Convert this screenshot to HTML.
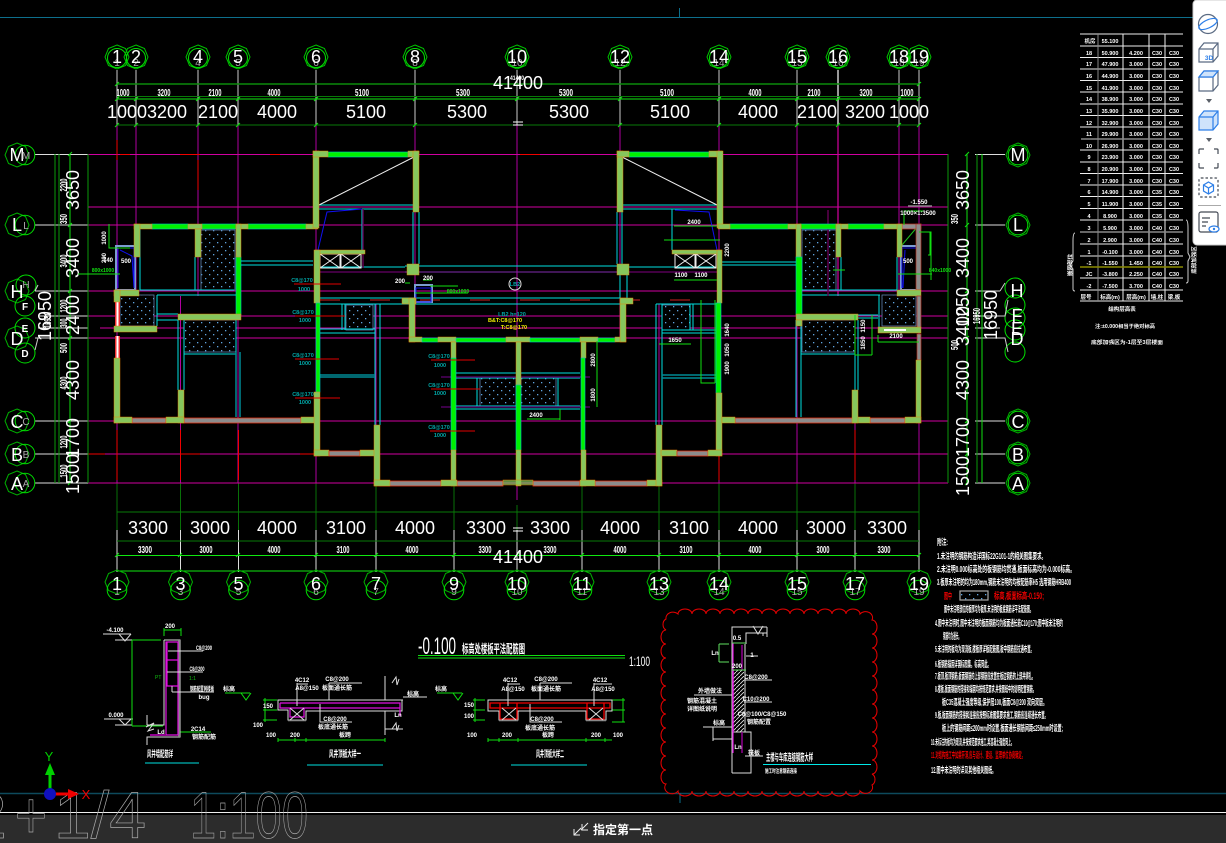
<!DOCTYPE html>
<html><head><meta charset="utf-8"><style>
html,body{margin:0;padding:0;background:#000;width:1226px;height:843px;overflow:hidden}
svg{display:block}
text{font-family:"Liberation Sans","Noto Sans CJK SC",sans-serif;fill:#fff}
.b{font-size:18px;text-anchor:middle}
.s{font-size:10px;text-anchor:middle;font-weight:bold}
.d{font-size:10px;text-anchor:middle;fill:#aaa}
.t{font-size:6px;text-anchor:middle;font-weight:bold}
.c{font-size:5.5px;text-anchor:middle;fill:#00a8a8;font-weight:bold}
.w{fill:#86c65c;stroke:#f08000;stroke-width:.45}
.g{fill:#8c8c8c;stroke:#e03010;stroke-width:.8}
.l{fill:#00f000;stroke:#00c8c8;stroke-width:.6}
.h{fill:url(#dots);stroke:#6080b0;stroke-width:.8}
.n{font-size:8.5px;font-weight:bold}
.tb{font-size:5.5px;text-anchor:middle;font-weight:bold}
.big{font-size:66px;fill:none;stroke-width:.7}
</style></head><body>
<svg width="1226" height="843" viewBox="0 0 1226 843" xmlns="http://www.w3.org/2000/svg">
<defs>
<pattern id="dots" width="8" height="8" patternUnits="userSpaceOnUse"><rect width="8" height="8" fill="#000"/><rect x="1" y="2" width="1.3" height="1.3" fill="#5fa4e0"/><rect x="5" y="6" width="1.3" height="1.3" fill="#5fa4e0"/></pattern>
<pattern id="hat" width="4" height="4" patternUnits="userSpaceOnUse"><rect width="4" height="4" fill="#000"/><path d="M0 4L4 0" stroke="#ddd" stroke-width=".9"/></pattern>
<g id="tb" fill="none" stroke="#00c000"><polygon points="0,-12 8.5,-8.5 12,0 8.5,8.5 0,12 -8.5,8.5 -12,0 -8.5,-8.5"/><circle cy="1" r="9.5" stroke="#00e000"/></g>
<g id="bb" fill="none" stroke="#00b000"><polygon points="0,-12 8.5,-8.5 12,0 8.5,8.5 0,12 -8.5,8.5 -12,0 -8.5,-8.5"/><circle cy="8" r="9.8" stroke="#00e000"/></g>
<g id="lb" fill="none" stroke="#00b000"><polygon points="0,-12 8.5,-8.5 12,0 8.5,8.5 0,12 -8.5,8.5 -12,0 -8.5,-8.5"/><circle cx="8" r="9.8" stroke="#00e000"/></g>
<circle id="c1" r="10" fill="none" stroke="#00e000"/>
</defs>
<rect width="1226" height="843" fill="#000"/>

<!-- ucs lines -->
<path d="M0 17.5H1226M679.5 8V17" stroke="#0d6f8c" fill="none"/>
<path d="M0 793.5H1226" stroke="#0d4a5c" stroke-width="1.5" fill="none"/>
<path d="M680 793V803" stroke="#0d6f8c"/>

<!-- vertical white stems -->
<path d="M117 70V125M136 70V125M198 70V125M238 70V125M316 70V125M415 70V125M517 70V125M620 70V125M719 70V125M797 70V125M899 70V125M919 70V125" stroke="#ccc" fill="none"/>
<path d="M838 70V125" stroke="#999" stroke-width="2"/>
<path d="M117 530V572M180.500 530V572M238.500 530V572M316 530V572M376 530V572M454 530V572M517 530V572M582 530V572M659 530V572M719 530V572M797 530V572M855 530V572M919 530V572" stroke="#ddd" fill="none"/>
<!-- axis lines -->
<g stroke="#b000a0" fill="none">
<path d="M117 125V483M136 125V290M198 125V296M238 125V483M316 125V483M415 125V340M517 125V500M620 125V340M719 125V483M797 125V483M899 125V290M919 125V483M454 340V483M582 340V483M180.500 296V483M376 304V483M659 304V483M855 320V483"/>
<path d="M838 125V296" stroke="#800060" stroke-width="2"/>
</g>
<path d="M117 483V530M180.500 483V530M238.500 483V530M316 483V530M376 483V530M454 483V530M517 505V530M582 483V530M659 483V530M719 483V530M797 483V530M855 483V530M919 483V530" stroke="#087008" fill="none"/>
<g stroke="#d000a0" fill="none">
<path d="M88 154.500H948M88 207H948M88 225H948M88 291H948M88 316H948M100 328H948M88 338H948M88 421H948M88 454H948M88 483H948"/>
</g>
<path d="M120 154.500H130M180 154.500H200M270 154.500H280M520 154.500H540M700 154.500H720M88 454H105M180 454H200M300 454H330M440 483H460M600 483H620M117 140V160M198 160V190M117 430V480M180.500 430V480M238.500 430V480M517 340V350M719 430V480M855 430V480" stroke="#f00000" fill="none"/>
<!-- left right white leaders -->
<path d="M35 154.500H88M35 225H88M35 291H88M38 316H88M38 328H88M35 338H88M35 421H88M35 454H88M35 483H88M975 154.500H1005M975 225H1005M975 291H1000M975 316H1000M975 328H1000M975 338H1000M975 421H1005M975 454H1005M975 483H1005" stroke="#ddd" fill="none"/>

<!-- dim lines top/bottom -->
<path d="M117 84H919" stroke="#0a8a0a" stroke-width="1.600"/>
<path d="M117 96.500H919M117 125H919M117 512H919M117 541H919" stroke="#087a08" fill="none"/>
<path d="M117 99H919M117 555.500H919M117 571H919" stroke="#10e810" fill="none"/>
<!-- dim lines left/right -->
<path d="M55 154V483M59 154V483M88 154V483M948 154V483M977 154V483" stroke="#0a9a0a" fill="none"/>
<path d="M70 154V483M967 154V483M982 154V483" stroke="#10e010" fill="none"/>
<!-- ticks -->
<path d="M115 86l4 -4M115 101l4 -4M134 101l4 -4M196 101l4 -4M236 101l4 -4M314 101l4 -4M413 101l4 -4M515 101l4 -4M618 101l4 -4M717 101l4 -4M795 101l4 -4M836 101l4 -4M897 101l4 -4M917 101l4 -4M917 86l4 -4M115 127l4 -4M134 127l4 -4M196 127l4 -4M236 127l4 -4M314 127l4 -4M413 127l4 -4M618 127l4 -4M717 127l4 -4M795 127l4 -4M836 127l4 -4M897 127l4 -4M917 127l4 -4M115 557l4 -4M178 557l4 -4M236 557l4 -4M314 557l4 -4M374 557l4 -4M452 557l4 -4M515 557l4 -4M580 557l4 -4M657 557l4 -4M717 557l4 -4M795 557l4 -4M853 557l4 -4M917 557l4 -4M68 156l4 -4M68 227l4 -4M68 293l4 -4M68 340l4 -4M68 423l4 -4M68 456l4 -4M68 485l4 -4M965 156l4 -4M965 227l4 -4M965 293l4 -4M965 340l4 -4M965 423l4 -4M965 456l4 -4M965 485l4 -4" stroke="#10e010" fill="none"/>
<path d="M513 122h10M513 125h10" stroke="#fff"/>
<path d="M513 528h10M513 531h10" stroke="#fff"/>

<!-- hatched rooms -->
<rect class="h" x="201" y="230" width="34" height="60"/>
<rect class="h" x="120" y="295" width="34" height="31"/>
<rect class="h" x="184" y="320" width="52" height="32"/>
<rect class="h" x="346" y="305" width="27" height="25"/>
<rect class="h" x="480" y="378" width="36" height="28"/>
<rect class="h" x="521" y="378" width="35" height="28"/>
<rect class="h" x="662" y="305" width="28" height="25"/>
<rect class="h" x="802" y="230" width="34" height="60"/>
<rect class="h" x="802" y="320" width="53" height="32"/>
<rect class="h" x="882" y="295" width="34" height="31"/>

<!-- cyan lines -->
<g fill="none" stroke="#00e0e0" stroke-width="1">
<path d="M140 229V290H234M195 257V290M157 295H236M157 295V326M157 314H178M157 320H178M178 320V390M184 320V390M184 354H236M236 320V417M241 261H313M241 265H313"/>
<path d="M319 205H413M319 209H413M362 209V250M320 267H405M320 298H410M320 304H410M342 304V330M345 304V330M320 329H375M320 333H375M375 304V425M380 304V425"/>
<path d="M405 266H622M405 272H622M410 298H620M410 304H620M413 212V264M419 212V264M622 212V264M620 275V298M627 275V298"/>
<path d="M455 373H580M455 378H580M455 406H580M455 409H580M477 378V406M558 378V406"/>
<path d="M656 304V425M662 304V425M656 304H716M662 330H716M662 333H716M690 304V330M693 304V330"/>
<path d="M622 205H717M622 209H717M672 209V250M620 267H716"/>
<path d="M722 262H796M722 265H796M841 257V290M897 257V290M801 290H897M802 295H880M879 295V330M858 315H878M858 318H878M855 320V390M858 320V390M796 320V417M801 320V417M801 354H855"/>
</g>
<path d="M320 375H375M320 377H375M662 375H716M662 378H716M236 352V417M240 352V417M617 212V264" stroke="#008a96" fill="none" stroke-width="1.500"/>
<path d="M441 377H590M441 407H590" stroke="#500060" stroke-width="1.500"/>
<path d="M363 209V268M828 210V296" stroke="#600050" stroke-width="1.500"/>
<!-- red cross lines -->
<path d="M320 272H720" stroke="#a000a0" fill="none" opacity=".8"/>
<path d="M320 300H720" stroke="#d02020" fill="none" stroke-dasharray="20 30"/>

<!-- stairs/diagonals -->
<path d="M319 205L414 157M622 157L717 205" stroke="#eee" fill="none"/>
<g fill="none" stroke="#eee"><rect x="320" y="254" width="20" height="14"/><path d="M320 254L340 268M340 254L320 268"/><rect x="341" y="254" width="20" height="14"/><path d="M341 254L361 268M361 254L341 268"/><rect x="675" y="254" width="20" height="14"/><path d="M675 254L695 268M695 254L675 268"/><rect x="696" y="254" width="20" height="14"/><path d="M696 254L716 268M716 254L696 268"/></g>
<path d="M318 250L327 212L362 209M675 210L709 212L717 250" stroke="#1010f0" fill="none"/>
<!-- shafts -->
<rect x="116" y="246" width="19" height="44" fill="none" stroke="#7c9cd0" stroke-width="2"/>
<path d="M118 248H134V288M118 248V288M120 250L132 256L134 288" stroke="#1010f0" fill="none"/>
<rect x="901" y="246" width="18" height="44" fill="none" stroke="#7c9cd0" stroke-width="2"/>
<path d="M918 248H902V288M918 248V288M905 250L903 288" stroke="#1010f0" fill="none"/>
<path d="M902 225L919 225M902 245L918 226" stroke="#20c020" fill="none"/>
<rect x="415" y="285" width="17" height="17" fill="none" stroke="#7c9cd0" stroke-width="2"/><rect x="416" y="288" width="15" height="14" fill="none" stroke="#1010f0"/>

<!-- WALLS: left wing -->
<rect class="l" x="152" y="224" width="36" height="5"/>
<rect class="l" x="202" y="224" width="34" height="5"/>
<rect class="l" x="248" y="224" width="58" height="5"/>
<rect class="l" x="236" y="257" width="5" height="58"/>
<rect class="w" x="134" y="224" width="18" height="5"/>
<rect class="w" x="188" y="224" width="14" height="5"/>
<rect class="w" x="236" y="224" width="12" height="5"/>
<rect class="w" x="306" y="224" width="12" height="5"/>
<rect class="w" x="134" y="224" width="6" height="33"/>
<rect class="w" x="195" y="229" width="6" height="28"/>
<rect class="w" x="236" y="224" width="5" height="33"/>
<rect class="w" x="114" y="290" width="25" height="6"/>
<rect x="115" y="302" width="5" height="24" fill="#f03030"/><rect x="116.500" y="302" width="2" height="24" fill="#fff"/>
<rect class="w" x="114" y="326" width="43" height="6"/>
<rect x="115" y="336" width="5" height="22" fill="#f03030"/><rect x="116.500" y="336" width="2" height="22" fill="#fff"/>
<rect class="w" x="114" y="290" width="6" height="12"/>
<rect class="w" x="114" y="358" width="6" height="65"/>
<rect class="w" x="178" y="314" width="63" height="6"/>
<rect class="w" x="178" y="390" width="6" height="33"/>
<rect class="g" x="132" y="418" width="34" height="5"/>
<rect class="g" x="184" y="418" width="117" height="5"/>
<rect class="w" x="114" y="417" width="18" height="6"/>
<rect class="w" x="166" y="417" width="18" height="6"/>
<rect class="w" x="301" y="417" width="14" height="6"/>
<!-- left tower -->
<rect class="l" x="328" y="152" width="80" height="5"/>
<rect class="w" x="313" y="151" width="6" height="77"/>
<rect class="w" x="313" y="151" width="15" height="6"/>
<rect class="w" x="408" y="151" width="11" height="6"/>
<rect class="w" x="413" y="151" width="6" height="61"/>
<rect class="w" x="315" y="250" width="50" height="4"/>
<rect class="w" x="314" y="250" width="6" height="53"/>
<rect class="l" x="316" y="303" width="4" height="89"/>
<rect class="w" x="314" y="392" width="6" height="64"/>
<rect class="w" x="314" y="450" width="15" height="6"/>
<rect class="g" x="329" y="451" width="31" height="5"/>
<rect class="w" x="360" y="450" width="16" height="6"/>
<rect class="w" x="374" y="425" width="6" height="61"/>
<rect class="w" x="407" y="264" width="12" height="11"/>
<!-- center -->
<rect class="w" x="402" y="298" width="14" height="6"/>
<rect class="w" x="409" y="298" width="6" height="44"/>
<rect class="w" x="409" y="337" width="13" height="5"/>
<rect class="l" x="422" y="338" width="16" height="4"/>
<rect class="w" x="438" y="337" width="18" height="5"/>
<rect class="l" x="456" y="338" width="50" height="4"/>
<rect class="w" x="506" y="337" width="24" height="5"/>
<rect class="l" x="530" y="338" width="50" height="4"/>
<rect class="w" x="580" y="337" width="18" height="5"/>
<rect class="l" x="598" y="338" width="17" height="4"/>
<rect class="w" x="615" y="337" width="11" height="5"/>
<rect class="w" x="620" y="298" width="6" height="44"/>
<rect class="w" x="620" y="298" width="13" height="6"/>
<rect class="w" x="451" y="342" width="5" height="16"/>
<rect class="l" x="451" y="358" width="5" height="92"/>
<rect class="w" x="451" y="450" width="5" height="36"/>
<rect class="w" x="516" y="342" width="5" height="43"/>
<rect class="l" x="516" y="385" width="5" height="65"/>
<rect class="w" x="516" y="450" width="5" height="36"/>
<rect class="w" x="581" y="342" width="5" height="16"/>
<rect class="l" x="581" y="358" width="4" height="92"/>
<rect class="w" x="581" y="450" width="5" height="36"/>
<rect class="g" x="380" y="481" width="61" height="5"/>
<rect class="g" x="457" y="481" width="46" height="5"/>
<rect class="g" x="533" y="481" width="47" height="5"/>
<rect class="g" x="595" y="481" width="52" height="5"/>
<rect class="w" x="374" y="480" width="16" height="6"/>
<rect class="w" x="441" y="480" width="16" height="6"/>
<rect class="w" x="503" y="480" width="30" height="5" fill-opacity=".7"/>
<rect class="w" x="580" y="480" width="15" height="6"/>
<rect class="w" x="647" y="480" width="15" height="6"/>
<rect class="w" x="656" y="425" width="6" height="61"/>
<!-- right tower -->
<rect class="l" x="629" y="152" width="80" height="5"/>
<rect class="w" x="617" y="151" width="6" height="61"/>
<rect class="w" x="617" y="151" width="12" height="6"/>
<rect class="w" x="709" y="151" width="13" height="6"/>
<rect class="w" x="717" y="151" width="6" height="77"/>
<rect class="w" x="672" y="250" width="50" height="4"/>
<rect class="w" x="717" y="250" width="5" height="53"/>
<rect class="l" x="716" y="303" width="5" height="90"/>
<rect class="w" x="716" y="393" width="6" height="63"/>
<rect class="w" x="661" y="450" width="16" height="6"/>
<rect class="g" x="677" y="451" width="31" height="5"/>
<rect class="w" x="708" y="450" width="14" height="6"/>
<rect class="w" x="617" y="264" width="12" height="11"/>
<!-- right wing -->
<rect class="l" x="730" y="224" width="58" height="5"/>
<rect class="l" x="800" y="224" width="36" height="5"/>
<rect class="l" x="848" y="224" width="36" height="5"/>
<rect class="w" x="718" y="224" width="12" height="5"/>
<rect class="w" x="788" y="224" width="13" height="5"/>
<rect class="w" x="836" y="224" width="12" height="5"/>
<rect class="w" x="884" y="224" width="18" height="5"/>
<rect x="902" y="224" width="19" height="5" fill="#909090" stroke="#c03020" stroke-width=".7"/>
<rect class="w" x="796" y="224" width="5" height="33"/>
<rect class="w" x="836" y="224" width="5" height="33"/>
<rect class="w" x="897" y="224" width="5" height="33"/>
<rect x="916" y="224" width="5" height="66" fill="#8c8c8c" stroke="#b03020" stroke-width=".7"/>
<rect class="l" x="796" y="257" width="6" height="58"/>
<rect class="w" x="796" y="314" width="62" height="6"/>
<rect class="w" x="796" y="320" width="6" height="6"/>
<rect class="w" x="897" y="290" width="24" height="6"/>
<rect x="917" y="296" width="4" height="32" fill="#8c8c8c" stroke="#b03020" stroke-width=".7"/>
<rect class="w" x="878" y="327" width="43" height="6"/><rect x="884" y="329" width="22" height="2" fill="#fff"/>
<rect x="917" y="334" width="4" height="26" fill="#8c8c8c" stroke="#b03020" stroke-width=".7"/>
<rect class="w" x="916" y="360" width="5" height="63"/>
<rect class="g" x="735" y="418" width="118" height="5"/>
<rect class="g" x="870" y="418" width="35" height="5"/>
<rect class="w" x="722" y="417" width="13" height="6"/>
<rect class="w" x="853" y="417" width="17" height="6"/>
<rect class="w" x="905" y="417" width="16" height="6"/>
<rect class="w" x="852" y="390" width="6" height="33"/>

<!-- top bubbles -->
<use href="#tb" x="117" y="57"/><use href="#tb" x="136" y="57"/><use href="#tb" x="198" y="57"/><use href="#tb" x="238" y="57"/><use href="#tb" x="316" y="57"/><use href="#tb" x="415" y="57"/><use href="#tb" x="517" y="57"/><use href="#tb" x="620" y="57"/><use href="#tb" x="719" y="57"/><use href="#tb" x="797" y="57"/><use href="#tb" x="838" y="57"/><use href="#tb" x="899" y="57"/><use href="#tb" x="919" y="57"/>
<text class="d" x="117" y="66">1</text><text class="d" x="136" y="66">2</text><text class="d" x="198" y="66">4</text><text class="d" x="238" y="66">5</text><text class="d" x="316" y="66">6</text><text class="d" x="415" y="66">8</text><text class="d" x="517" y="66">10</text><text class="d" x="620" y="66">12</text><text class="d" x="719" y="66">14</text><text class="d" x="797" y="66">15</text><text class="d" x="838" y="66">16</text><text class="d" x="899" y="66">18</text><text class="d" x="919" y="66">19</text>
<text class="b" x="117" y="63">1</text><text class="b" x="136" y="63">2</text><text class="b" x="198" y="63">4</text><text class="b" x="238" y="63">5</text><text class="b" x="316" y="63">6</text><text class="b" x="415" y="63">8</text><text class="b" x="517" y="63">10</text><text class="b" x="620" y="63">12</text><text class="b" x="719" y="63">14</text><text class="b" x="797" y="63">15</text><text class="b" x="838" y="63">16</text><text class="b" x="899" y="63">18</text><text class="b" x="919" y="63">19</text>
<!-- bottom bubbles -->
<use href="#bb" x="117" y="582"/><use href="#bb" x="180.500" y="582"/><use href="#bb" x="238.500" y="582"/><use href="#bb" x="316" y="582"/><use href="#bb" x="376" y="582"/><use href="#bb" x="454" y="582"/><use href="#bb" x="517" y="582"/><use href="#bb" x="582" y="582"/><use href="#bb" x="659" y="582"/><use href="#bb" x="719" y="582"/><use href="#bb" x="797" y="582"/><use href="#bb" x="855" y="582"/><use href="#bb" x="919" y="582"/>
<text class="d" x="117" y="595">1</text><text class="d" x="180.500" y="595">3</text><text class="d" x="238.500" y="595">5</text><text class="d" x="316" y="595">6</text><text class="d" x="376" y="595">7</text><text class="d" x="454" y="595">9</text><text class="d" x="517" y="595">10</text><text class="d" x="582" y="595">11</text><text class="d" x="659" y="595">13</text><text class="d" x="719" y="595">14</text><text class="d" x="797" y="595">15</text><text class="d" x="855" y="595">17</text><text class="d" x="919" y="595">19</text>
<text class="b" x="117" y="590">1</text><text class="b" x="180.500" y="590">3</text><text class="b" x="238.500" y="590">5</text><text class="b" x="316" y="590">6</text><text class="b" x="376" y="590">7</text><text class="b" x="454" y="590">9</text><text class="b" x="517" y="590">10</text><text class="b" x="582" y="590">11</text><text class="b" x="659" y="590">13</text><text class="b" x="719" y="590">14</text><text class="b" x="797" y="590">15</text><text class="b" x="855" y="590">17</text><text class="b" x="919" y="590">19</text>
<!-- left bubbles -->
<use href="#lb" x="17" y="155"/><use href="#lb" x="17" y="225"/><use href="#lb" x="17" y="421"/><use href="#lb" x="17" y="454"/><use href="#lb" x="17" y="483"/>
<g fill="none" stroke="#00b000"><polygon points="17,279 25.500,282.500 29,291 25.500,299.500 17,303 8.500,299.500 5,291 8.500,282.500"/><polygon points="17,326 25.500,329.500 29,338 25.500,346.500 17,350 8.500,346.500 5,338 8.500,329.500"/></g>
<use href="#c1" x="26" y="285"/><use href="#c1" x="25" y="306"/><use href="#c1" x="25" y="328"/><use href="#c1" x="25" y="353"/>
<text class="b" x="17" y="161">M</text><text class="b" x="17" y="231">L</text><text class="b" x="17" y="298">H</text><text class="b" x="17" y="345">D</text><text class="b" x="17" y="428">C</text><text class="b" x="17" y="461">B</text><text class="b" x="17" y="490">A</text>
<text class="d" x="26" y="159">M</text><text class="d" x="26" y="229">L</text><text class="d" x="26" y="425">C</text><text class="d" x="26" y="458">B</text><text class="d" x="26" y="487">A</text><text class="d" x="26" y="288">H</text>
<text class="s" x="25" y="310">F</text><text class="s" x="25" y="332">E</text><text class="s" x="25" y="357">D</text>
<!-- right bubbles -->
<g fill="none" stroke="#00b000"><polygon points="1018,143 1026.500,146.500 1030,155 1026.500,163.500 1018,167 1009.500,163.500 1006,155 1009.500,146.500"/><polygon points="1018,213 1026.500,216.500 1030,225 1026.500,233.500 1018,237 1009.500,233.500 1006,225 1009.500,216.500"/><polygon points="1018,409 1026.500,412.500 1030,421 1026.500,429.500 1018,433 1009.500,429.500 1006,421 1009.500,412.500"/><polygon points="1018,442 1026.500,445.500 1030,454 1026.500,462.500 1018,466 1009.500,462.500 1006,454 1009.500,445.500"/><polygon points="1018,471 1026.500,474.500 1030,483 1026.500,491.500 1018,495 1009.500,491.500 1006,483 1009.500,474.500"/></g>
<circle cx="1018" cy="155" r="9.800" fill="none" stroke="#00e000"/><circle cx="1018" cy="225" r="9.800" fill="none" stroke="#00e000"/><circle cx="1018" cy="421" r="9.800" fill="none" stroke="#00e000"/><circle cx="1018" cy="454" r="9.800" fill="none" stroke="#00e000"/><circle cx="1018" cy="483" r="9.800" fill="none" stroke="#00e000"/>
<use href="#c1" x="1015" y="288"/><use href="#c1" x="1015" y="305"/><use href="#c1" x="1015" y="318"/><use href="#c1" x="1015" y="330"/><use href="#c1" x="1015" y="352"/>
<text class="b" x="1018" y="161">M</text><text class="b" x="1018" y="231">L</text><text class="b" x="1018" y="428">C</text><text class="b" x="1018" y="461">B</text><text class="b" x="1018" y="490">A</text>
<text class="b" x="1017" y="297">H</text><text class="b" x="1017" y="322">F</text><text class="b" x="1017" y="335">E</text><text class="b" x="1017" y="345">D</text>
<path d="M1000 291L1005 283M1000 316H1005L1008 300M1000 338H1005L1008 352" stroke="#ccc" fill="none"/>
<path d="M35 291L38 285M38 338L35 350" stroke="#ccc" fill="none"/>

<!-- dims top -->
<text class="b" x="518" y="89">41400</text>
<text class="t" x="517" y="80" textLength="14" lengthAdjust="spacingAndGlyphs">41400</text>
<text class="b" x="127" y="118">1000</text><text class="b" x="167" y="118">3200</text><text class="b" x="218" y="118">2100</text><text class="b" x="277" y="118">4000</text><text class="b" x="366" y="118">5100</text><text class="b" x="467" y="118">5300</text><text class="b" x="569" y="118">5300</text><text class="b" x="670" y="118">5100</text><text class="b" x="758" y="118">4000</text><text class="b" x="817" y="118">2100</text><text class="b" x="865" y="118">3200</text><text class="b" x="909" y="118">1000</text>
<g><text class="s" x="123" y="96" textLength="13" lengthAdjust="spacingAndGlyphs">1000</text><text class="s" x="164" y="96" textLength="13" lengthAdjust="spacingAndGlyphs">3200</text><text class="s" x="215" y="96" textLength="13" lengthAdjust="spacingAndGlyphs">2100</text><text class="s" x="274" y="96" textLength="13" lengthAdjust="spacingAndGlyphs">4000</text><text class="s" x="362" y="96" textLength="14" lengthAdjust="spacingAndGlyphs">5100</text><text class="s" x="463" y="96" textLength="14" lengthAdjust="spacingAndGlyphs">5300</text><text class="s" x="566" y="96" textLength="14" lengthAdjust="spacingAndGlyphs">5300</text><text class="s" x="667" y="96" textLength="14" lengthAdjust="spacingAndGlyphs">5100</text><text class="s" x="755" y="96" textLength="13" lengthAdjust="spacingAndGlyphs">4000</text><text class="s" x="814" y="96" textLength="13" lengthAdjust="spacingAndGlyphs">2100</text><text class="s" x="866" y="96" textLength="13" lengthAdjust="spacingAndGlyphs">3200</text><text class="s" x="907" y="96" textLength="13" lengthAdjust="spacingAndGlyphs">1000</text></g>
<!-- dims bottom -->
<text class="b" x="148" y="534">3300</text><text class="b" x="210" y="534">3000</text><text class="b" x="277" y="534">4000</text><text class="b" x="346" y="534">3100</text><text class="b" x="415" y="534">4000</text><text class="b" x="486" y="534">3300</text><text class="b" x="550" y="534">3300</text><text class="b" x="620" y="534">4000</text><text class="b" x="689" y="534">3100</text><text class="b" x="758" y="534">4000</text><text class="b" x="826" y="534">3000</text><text class="b" x="887" y="534">3300</text>
<text class="b" x="518" y="563">41400</text>
<text class="s" x="145" y="553" textLength="14" lengthAdjust="spacingAndGlyphs">3300</text><text class="s" x="206" y="553" textLength="13" lengthAdjust="spacingAndGlyphs">3000</text><text class="s" x="274" y="553" textLength="13" lengthAdjust="spacingAndGlyphs">4000</text><text class="s" x="343" y="553" textLength="13" lengthAdjust="spacingAndGlyphs">3100</text><text class="s" x="412" y="553" textLength="13" lengthAdjust="spacingAndGlyphs">4000</text><text class="s" x="485" y="553" textLength="13" lengthAdjust="spacingAndGlyphs">3300</text><text class="s" x="550" y="553" textLength="13" lengthAdjust="spacingAndGlyphs">3300</text><text class="s" x="620" y="553" textLength="13" lengthAdjust="spacingAndGlyphs">4000</text><text class="s" x="686" y="553" textLength="13" lengthAdjust="spacingAndGlyphs">3100</text><text class="s" x="755" y="553" textLength="13" lengthAdjust="spacingAndGlyphs">4000</text><text class="s" x="823" y="553" textLength="13" lengthAdjust="spacingAndGlyphs">3000</text><text class="s" x="884" y="553" textLength="13" lengthAdjust="spacingAndGlyphs">3300</text>
<!-- dims left rotated -->
<text class="b" transform="translate(79 190) rotate(-90)">3650</text>
<text class="b" transform="translate(79 258) rotate(-90)">3400</text>
<text class="b" transform="translate(79 315) rotate(-90)">2400</text>
<text class="b" transform="translate(79 380) rotate(-90)">4300</text>
<text class="b" transform="translate(79 438) rotate(-90)">1700</text>
<text class="b" transform="translate(79 474) rotate(-90)">1500</text>
<text class="b" transform="translate(51 316) rotate(-90)">16950</text>
<g><text class="s" transform="translate(67 185) rotate(-90)" textLength="13" lengthAdjust="spacingAndGlyphs">2200</text><text class="s" transform="translate(67 219) rotate(-90)" textLength="10" lengthAdjust="spacingAndGlyphs">350</text><text class="s" transform="translate(67 261) rotate(-90)" textLength="13" lengthAdjust="spacingAndGlyphs">3400</text><text class="s" transform="translate(67 306) rotate(-90)" textLength="13" lengthAdjust="spacingAndGlyphs">1200</text><text class="s" transform="translate(67 323) rotate(-90)" textLength="9" lengthAdjust="spacingAndGlyphs">300</text><text class="s" transform="translate(67 348) rotate(-90)" textLength="10" lengthAdjust="spacingAndGlyphs">500</text><text class="s" transform="translate(67 383) rotate(-90)" textLength="13" lengthAdjust="spacingAndGlyphs">4300</text><text class="s" transform="translate(67 442) rotate(-90)" textLength="13" lengthAdjust="spacingAndGlyphs">1200</text><text class="s" transform="translate(67 471) rotate(-90)" textLength="13" lengthAdjust="spacingAndGlyphs">1500</text><text class="s" transform="translate(51 320) rotate(-90)" textLength="16" lengthAdjust="spacingAndGlyphs">16950</text></g>
<!-- dims right rotated -->
<text class="b" transform="translate(969 190) rotate(-90)">3650</text>
<text class="b" transform="translate(969 258) rotate(-90)">3400</text>
<text class="b" transform="translate(969 307) rotate(-90)">1250</text>
<text class="b" transform="translate(969 326) rotate(-90)">3400</text>
<text class="b" transform="translate(969 380) rotate(-90)">4300</text>
<text class="b" transform="translate(969 437) rotate(-90)">1700</text>
<text class="b" transform="translate(969 476) rotate(-90)">1500</text>
<text class="b" transform="translate(997 315) rotate(-90)">16950</text>
<text class="s" transform="translate(958 219) rotate(-90)" textLength="10" lengthAdjust="spacingAndGlyphs">350</text>
<text class="s" transform="translate(958 345) rotate(-90)" textLength="10" lengthAdjust="spacingAndGlyphs">500</text>
<text class="s" transform="translate(980 316) rotate(-90)" textLength="16" lengthAdjust="spacingAndGlyphs">16950</text>

<!-- red leaders & labels -->
<path d="M294 284H341M295 316H345M295 359H339M295 398H340M431 360H475M431 389H480M430 431H475" stroke="#e00000" fill="none"/>
<text class="c" x="302" y="282">C8@170</text><text class="c" x="304" y="291">1000</text>
<text class="c" x="303" y="314">C8@170</text><text class="c" x="305" y="322">1000</text>
<text class="c" x="303" y="357">C8@170</text><text class="c" x="305" y="365">1000</text>
<text class="c" x="303" y="396">C8@170</text><text class="c" x="305" y="404">1000</text>
<text class="c" x="439" y="358">C8@170</text><text class="c" x="440" y="367">1000</text>
<text class="c" x="439" y="387">C8@170</text><text class="c" x="440" y="395">1000</text>
<text class="c" x="439" y="429">C8@170</text><text class="c" x="440" y="437">1000</text>
<text class="c" x="512" y="316">LB2 h=120</text>
<text x="505" y="322" style="font-size:5.5px;text-anchor:middle;fill:#f0f000;font-weight:bold">B&amp;T:C8@170</text>
<text x="514" y="329" style="font-size:5.5px;text-anchor:middle;fill:#f0f000;font-weight:bold">T:C8@170</text>
<circle cx="515" cy="284" r="6" fill="none" stroke="#ddd"/><text class="c" x="515" y="286">LB2</text>
<!-- green small -->
<path d="M78 274H120M130 248H109V225M109 244V224M415 293H468M932 274H898M924 211H904V225M928 255H930V232" stroke="#10e010" fill="none"/>
<text x="103" y="272" style="font-size:5px;fill:#10e010;text-anchor:middle;font-weight:bold">800x1000</text>
<text x="458" y="293" style="font-size:5px;fill:#10e010;text-anchor:middle;font-weight:bold">800x1000</text>
<text x="940" y="272" style="font-size:5px;fill:#10e010;text-anchor:middle;font-weight:bold">840x1000</text>
<path d="M674 226H717M674 280H717M664 240H720M659 344H691M701 300V383H715M715 300V383M458 286H430M527 419H560M560 409V420M597 341V407M423 280H432M405 283H410M833 270H845M878 342H919M878 335V342M855 315V355H872M872 315V355M931 280V232H919" stroke="#10e010" fill="none"/>
<text class="t" x="694" y="224">2400</text><text class="t" x="681" y="277">1100</text><text class="t" x="701" y="277">1100</text>
<text class="t" x="675" y="342">1650</text><text class="t" x="536" y="417">2400</text>
<text class="t" transform="translate(595 360) rotate(-90)">2800</text><text class="t" transform="translate(595 395) rotate(-90)">1800</text>
<text class="t" transform="translate(729 250) rotate(-90)">2200</text><text class="t" transform="translate(729 330) rotate(-90)">1640</text><text class="t" transform="translate(729 350) rotate(-90)">1050</text><text class="t" transform="translate(729 368) rotate(-90)">1900</text>
<text class="t" transform="translate(865 326) rotate(-90)">1150</text><text class="t" transform="translate(865 343) rotate(-90)">1850</text>
<text class="t" x="896" y="338">2100</text><text class="t" x="908" y="263">500</text><text class="t" x="126" y="263">500</text>
<text class="t" transform="translate(106 238) rotate(-90)">1000</text><text class="t" transform="translate(106 258) rotate(-90)">200</text>
<text class="t" x="108" y="262">740</text>
<text class="t" x="919" y="204">-1.550</text><text class="t" x="918" y="215">1000×1:3500</text>
<path d="M908 206H932" stroke="#888" stroke-width="1.500"/>
<text class="t" x="400" y="283">200</text><text class="t" x="428" y="280">200</text>

<!-- table -->
<g fill="none" stroke="#eee">
<path d="M1080 34H1183M1080 46H1183M1080 57.500H1183M1080 69H1183M1080 80.500H1183M1080 92H1183M1080 104H1183M1080 115.500H1183M1080 127H1183M1080 150H1183M1080 162H1183M1080 173.500H1183M1080 185H1183M1080 196.500H1183M1080 208.500H1183M1080 220H1183M1080 244H1183M1080 256H1183M1080 278H1183M1080 290H1183M1080 301H1183"/>
<path d="M1123 34V301M1149 34V301M1165 34V301"/>
</g>
<path d="M1098 34V301" stroke="#888" fill="none"/>
<path d="M1081 139H1183M1080 232H1183" stroke="#888" stroke-width="1.500" fill="none"/>
<path d="M1080 267H1183" stroke="#8a8a00" stroke-width="1.500" fill="none"/>
<path d="M1075 233q-2 0 -2 8v20l-3 4 3 4v20q0 2 2 2M1186 220q2 0 2 8v25l2 4 -2 4v20q0 2 -2 2" stroke="#ccc" fill="none"/>
<text class="tb" transform="translate(1072 265) rotate(-90)">嵌固部位</text>
<text class="tb" transform="translate(1196 260) rotate(-90)">底部加强区</text>
<text class="tb" x="1090" y="43">机房</text><text class="tb" x="1110" y="43">55.100</text>
<text class="tb" x="1089" y="55">18</text><text class="tb" x="1110" y="55">50.900</text><text class="tb" x="1136" y="55">4.200</text><text class="tb" x="1157" y="55">C30</text><text class="tb" x="1174" y="55">C30</text>
<text class="tb" x="1089" y="66">17</text><text class="tb" x="1110" y="66">47.900</text><text class="tb" x="1136" y="66">3.000</text><text class="tb" x="1157" y="66">C30</text><text class="tb" x="1174" y="66">C30</text>
<text class="tb" x="1089" y="78">16</text><text class="tb" x="1110" y="78">44.900</text><text class="tb" x="1136" y="78">3.000</text><text class="tb" x="1157" y="78">C30</text><text class="tb" x="1174" y="78">C30</text>
<text class="tb" x="1089" y="90">15</text><text class="tb" x="1110" y="90">41.900</text><text class="tb" x="1136" y="90">3.000</text><text class="tb" x="1157" y="90">C30</text><text class="tb" x="1174" y="90">C30</text>
<text class="tb" x="1089" y="101">14</text><text class="tb" x="1110" y="101">38.900</text><text class="tb" x="1136" y="101">3.000</text><text class="tb" x="1157" y="101">C30</text><text class="tb" x="1174" y="101">C30</text>
<text class="tb" x="1089" y="113">13</text><text class="tb" x="1110" y="113">35.900</text><text class="tb" x="1136" y="113">3.000</text><text class="tb" x="1157" y="113">C30</text><text class="tb" x="1174" y="113">C30</text>
<text class="tb" x="1089" y="125">12</text><text class="tb" x="1110" y="125">32.900</text><text class="tb" x="1136" y="125">3.000</text><text class="tb" x="1157" y="125">C30</text><text class="tb" x="1174" y="125">C30</text>
<text class="tb" x="1089" y="136">11</text><text class="tb" x="1110" y="136">29.900</text><text class="tb" x="1136" y="136">3.000</text><text class="tb" x="1157" y="136">C30</text><text class="tb" x="1174" y="136">C30</text>
<text class="tb" x="1089" y="148">10</text><text class="tb" x="1110" y="148">26.900</text><text class="tb" x="1136" y="148">3.000</text><text class="tb" x="1157" y="148">C30</text><text class="tb" x="1174" y="148">C30</text>
<text class="tb" x="1089" y="159">9</text><text class="tb" x="1110" y="159">23.900</text><text class="tb" x="1136" y="159">3.000</text><text class="tb" x="1157" y="159">C30</text><text class="tb" x="1174" y="159">C30</text>
<text class="tb" x="1089" y="171">8</text><text class="tb" x="1110" y="171">20.900</text><text class="tb" x="1136" y="171">3.000</text><text class="tb" x="1157" y="171">C30</text><text class="tb" x="1174" y="171">C30</text>
<text class="tb" x="1089" y="183">7</text><text class="tb" x="1110" y="183">17.900</text><text class="tb" x="1136" y="183">3.000</text><text class="tb" x="1157" y="183">C30</text><text class="tb" x="1174" y="183">C30</text>
<text class="tb" x="1089" y="194">6</text><text class="tb" x="1110" y="194">14.900</text><text class="tb" x="1136" y="194">3.000</text><text class="tb" x="1157" y="194">C35</text><text class="tb" x="1174" y="194">C30</text>
<text class="tb" x="1089" y="206">5</text><text class="tb" x="1110" y="206">11.900</text><text class="tb" x="1136" y="206">3.000</text><text class="tb" x="1157" y="206">C35</text><text class="tb" x="1174" y="206">C30</text>
<text class="tb" x="1089" y="218">4</text><text class="tb" x="1110" y="218">8.900</text><text class="tb" x="1136" y="218">3.000</text><text class="tb" x="1157" y="218">C35</text><text class="tb" x="1174" y="218">C30</text>
<text class="tb" x="1089" y="230">3</text><text class="tb" x="1110" y="230">5.900</text><text class="tb" x="1136" y="230">3.000</text><text class="tb" x="1157" y="230">C40</text><text class="tb" x="1174" y="230">C30</text>
<text class="tb" x="1089" y="242">2</text><text class="tb" x="1110" y="242">2.900</text><text class="tb" x="1136" y="242">3.000</text><text class="tb" x="1157" y="242">C40</text><text class="tb" x="1174" y="242">C30</text>
<text class="tb" x="1089" y="254">1</text><text class="tb" x="1110" y="254">-0.100</text><text class="tb" x="1136" y="254">3.000</text><text class="tb" x="1157" y="254">C40</text><text class="tb" x="1174" y="254">C30</text>
<text class="tb" x="1089" y="265">-1</text><text class="tb" x="1110" y="265">-1.550</text><text class="tb" x="1136" y="265">1.450</text><text class="tb" x="1157" y="265">C40</text><text class="tb" x="1174" y="265">C30</text>
<text class="tb" x="1089" y="276">JC</text><text class="tb" x="1110" y="276">-3.800</text><text class="tb" x="1136" y="276">2.250</text><text class="tb" x="1157" y="276">C40</text><text class="tb" x="1174" y="276">C30</text>
<text class="tb" x="1089" y="288">-2</text><text class="tb" x="1110" y="288">-7.500</text><text class="tb" x="1136" y="288">3.700</text><text class="tb" x="1157" y="288">C40</text><text class="tb" x="1174" y="288">C30</text>
<text class="tb" x="1086" y="299">层号</text><text class="tb" x="1110" y="299">标高(m)</text><text class="tb" x="1136" y="299">层高(m)</text><text class="tb" x="1157" y="299">墙,柱</text><text class="tb" x="1174" y="299">梁,板</text>
<text class="tb" x="1122" y="311">结构层高表</text>
<text x="1125" y="328" style="font-size:5px;text-anchor:middle;font-weight:bold" textLength="60" lengthAdjust="spacingAndGlyphs">注:±0.000相当于绝对标高</text>
<text x="1127" y="344" style="font-size:5px;text-anchor:middle;font-weight:bold" textLength="72" lengthAdjust="spacingAndGlyphs">底部加强区为-1层至3层楼面</text>

<!-- notes -->
<text class="n" x="937" y="545" textLength="11" lengthAdjust="spacingAndGlyphs">附注:</text>
<text class="n" x="937" y="559" textLength="109" lengthAdjust="spacingAndGlyphs">1.未注明的钢筋构造详国标22G101-1的相关图集要求。</text>
<text class="n" x="937" y="572" textLength="138" lengthAdjust="spacingAndGlyphs">2.未注明0.000标高处的板钢筋均贯通,板面标高均为-0.000标高。</text>
<text class="n" x="937" y="585" textLength="134" lengthAdjust="spacingAndGlyphs">3.板厚未注明的均为180mm,钢筋未注明的均按配筋率H5 选用钢筋HRB400</text>
<text x="944" y="599" style="font-size:8.5px;font-weight:bold;fill:#f00000" textLength="8" lengthAdjust="spacingAndGlyphs">图中</text>
<rect x="960" y="591" width="28" height="9" fill="url(#dots)" stroke="#aaa" stroke-width="1.200"/>
<text x="994" y="599" style="font-size:9px;font-weight:bold;fill:#f00000" textLength="50" lengthAdjust="spacingAndGlyphs">标高,板面标高-0.150;</text>
<text class="n" x="944" y="612" textLength="89" lengthAdjust="spacingAndGlyphs">图中未注明部位的板厚均为板厚,未注明的板底钢筋详平法配筋图。</text>
<text class="n" x="935" y="626" textLength="128" lengthAdjust="spacingAndGlyphs">4.图中未注明时,图中未注明的板面钢筋均为板面通长筋C10@170;图中板未注明的</text>
<text class="n" x="943" y="639" textLength="18" lengthAdjust="spacingAndGlyphs">钢筋均为通长。</text>
<text class="n" x="935" y="652" textLength="99" lengthAdjust="spacingAndGlyphs">5.未注明的板均为现浇板,楼板厚详板配筋图,板中钢筋应拉通布置。</text>
<text class="n" x="935" y="667" textLength="56" lengthAdjust="spacingAndGlyphs">6.板钢筋锚固详国标图集。标高同此。</text>
<text class="n" x="935" y="679" textLength="100" lengthAdjust="spacingAndGlyphs">7.板顶,板顶钢筋,板面钢筋的上部钢筋应放置在板边钢筋的上部并绑扎。</text>
<text class="n" x="935" y="692" textLength="101" lengthAdjust="spacingAndGlyphs">8.楼板,板面钢筋的搭接和锚固均按规范要求,并按图纸中的说明配置钢筋。</text>
<text class="n" x="942" y="705" textLength="105" lengthAdjust="spacingAndGlyphs">板C35混凝土强度等级,保护层100,板面C8@200 双向双层。</text>
<text class="n" x="935" y="718" textLength="113" lengthAdjust="spacingAndGlyphs">9.板,板面钢筋的搭接和连接应按照标准图集要求施工,钢筋应连续通长布置。</text>
<text class="n" x="942" y="731" textLength="121" lengthAdjust="spacingAndGlyphs">板上的钢筋间距≤200mm时设置,板面通长钢筋间距≤250mm时设置;</text>
<text class="n" x="931" y="745" textLength="83" lengthAdjust="spacingAndGlyphs">10.未标注的板均为现浇,并按规范要求施工,其混凝土强度同上。</text>
<text x="931" y="758" style="font-size:8.5px;font-weight:bold;fill:#f00000" textLength="94" lengthAdjust="spacingAndGlyphs">11.对结构施工中如需开洞,应与设计、建设、监理单位协商确定。</text>
<text class="n" x="931" y="773" textLength="65" lengthAdjust="spacingAndGlyphs">12.图中未注明的详见其他相关图纸。</text>

<!-- title -->
<text x="418" y="654" style="font-size:24px" textLength="38" lengthAdjust="spacingAndGlyphs">-0.100</text>
<text x="462" y="653" style="font-size:12px;font-weight:bold" textLength="63" lengthAdjust="spacingAndGlyphs">标高处楼板平法配筋图</text>
<path d="M418 655.500H625M418 658H625" stroke="#10e010" fill="none"/>
<text x="629" y="666" style="font-size:14px" textLength="21" lengthAdjust="spacingAndGlyphs">1:100</text>

<!-- detail 1 -->
<g fill="none">
<path d="M103 634H131M119 634l6 7 6 -7M104 719H133M119 719l6 6 6 -6M115 640H132M115 725H132" stroke="#ddd"/>
<path d="M132 640V726M132 640H161M132 726H163M164 630H181M164 628V636M181 628V636M180 732H211" stroke="#10e010"/>
<path d="M164 640V725H147M164 640H180V737H147V745M147 715V725M146 727l8 -4 -6 8 6 -2" stroke="#ddd"/>
<path d="M179 640V737" stroke="#888" stroke-width="2"/>
<path d="M166 642H178V735H166ZM166 660H178M166 686H178M167 642V686" stroke="#e010e0" stroke-width="1.200"/>
<path d="M150 735H166" stroke="#900090" stroke-width="2"/>
<path d="M168 651H203M167 672H203M172 692V692H214M172 686V692" stroke="#ddd"/>
<path d="M145 763H199" stroke="#00e0e0"/>
</g>
<text class="t" x="170" y="628">200</text><text class="t" x="115" y="632">-4.100</text><text class="t" x="116" y="717">0.000</text>
<text class="t" x="204" y="650" textLength="16" lengthAdjust="spacingAndGlyphs">C8@200</text>
<text class="t" x="197" y="671" textLength="15" lengthAdjust="spacingAndGlyphs">C8@200</text>
<text class="t" x="202" y="691" textLength="24" lengthAdjust="spacingAndGlyphs">钢筋配置同楼板</text>
<text class="t" x="204" y="699">bug</text><text class="t" x="161" y="734">Ld</text><text class="t" x="198" y="731">2C14</text><text class="t" x="204" y="739">钢筋配筋</text>
<text x="160" y="757" style="font-size:9px;font-weight:bold;text-anchor:middle" textLength="26" lengthAdjust="spacingAndGlyphs">风井墙配筋详</text>
<text x="155" y="679" style="font-size:5px;fill:#10c010">PT</text><text x="189" y="680" style="font-size:5px;fill:#10c010">1:1</text>

<!-- detail 2 -->
<g fill="none">
<path d="M225 693H250M241 693l5 7 5 -7M263 700H277M263 710H277M263 720H277M265 698V722" stroke="#10e010"/>
<path d="M278 742V738M295 742V738M306 742V738M385 742V738M278 740H385" stroke="#10e010"/>
<path d="M278 700H402V711H306V720H288V710H278ZM385 711V729H403M385 683V700H403M385 683V676M385 729V735M392 683l4 -6 1 8 2 -6M392 729l4 -6 1 8 2 -6" stroke="#ddd"/>
<path d="M280 703H400V716M280 703V708H400M290 708V717H304V708" stroke="#e010e0" stroke-width="1.200"/>
<path d="M288 720.500H306" stroke="#888" stroke-width="1.500"/>
<path d="M290 708L304 720M304 708L290 720M297 683V706M297 684H308M329 683H362M329 683V700M320 704V722H352" stroke="#ddd"/>
<path d="M307 765H383" stroke="#00e0e0"/>
<path d="M403 697H427" stroke="#ddd"/>
</g>
<text class="t" x="302" y="682">4C12</text><text class="t" x="307" y="690">A8@150</text><text class="t" x="337" y="681">C8@200</text><text class="t" x="337" y="690">板面通长筋</text><text class="t" x="335" y="721">C8@200</text><text class="t" x="333" y="729">板底通长筋</text><text class="t" x="413" y="696">标高</text>
<text class="t" x="229" y="691">标高</text><text class="t" x="268" y="708">150</text><text class="t" x="258" y="727">100</text><text class="t" x="271" y="737">100</text><text class="t" x="295" y="737">200</text><text class="t" x="345" y="737">板跨</text><text class="t" x="398" y="717">Ln</text>
<text x="345" y="757" style="font-size:9px;font-weight:bold;text-anchor:middle" textLength="32" lengthAdjust="spacingAndGlyphs">风井顶板大样一</text>

<!-- detail 3 -->
<g fill="none">
<path d="M437 693H462M453 693l5 7 5 -7M473 700H485M473 710H485M473 720H485M475 698V722M612 700H625M612 710H625M612 722H625M623 698V722" stroke="#10e010"/>
<path d="M488 742V738M499 742V738M518 742V738M586 742V738M605 742V738M488 740H612" stroke="#10e010"/>
<path d="M488 700H612V711H606V720H586V711H518V720H499V711H488Z" stroke="#ddd"/>
<path d="M490 703H610V708H490ZM500 703V719H517V703M587 703V719H604V703" stroke="#f00000" stroke-width="1.300"/>
<path d="M499 720.500H518M586 720.500H606" stroke="#888" stroke-width="1.500"/>
<path d="M502 708L516 720M516 708L502 720M589 708L603 720M603 708L589 720M508 683V706M508 684H520M540 683H572M540 683V700M530 704V722H562M594 683V706M594 684H612" stroke="#ddd"/>
<path d="M511 765H587" stroke="#00e0e0"/>
</g>
<text class="t" x="510" y="682">4C12</text><text class="t" x="513" y="691">A8@150</text><text class="t" x="546" y="681">C8@200</text><text class="t" x="546" y="691">板面通长筋</text><text class="t" x="542" y="721">C8@200</text><text class="t" x="540" y="730">板底通长筋</text><text class="t" x="600" y="682">4C12</text><text class="t" x="603" y="691">A8@150</text>
<text class="t" x="441" y="691">标高</text><text class="t" x="469" y="707">150</text><text class="t" x="469" y="718">100</text><text class="t" x="472" y="737">100</text><text class="t" x="507" y="737">200</text><text class="t" x="548" y="737">板跨</text><text class="t" x="596" y="737">200</text><text class="t" x="618" y="737">100</text>
<text x="550" y="757" style="font-size:9px;font-weight:bold;text-anchor:middle" textLength="28" lengthAdjust="spacingAndGlyphs">风井顶板大样二</text>

<!-- cloud -->
<path d="M666 619 a7 6 0 0 1 12 -5 a7 5 0 0 1 14 0 a7 5 0 0 1 14 0 a7 5 0 0 1 14 0 a7 5 0 0 1 14 0 a7 5 0 0 1 14 0 a7 5 0 0 1 14 0 a7 5 0 0 1 14 0 a7 5 0 0 1 14 0 a7 5 0 0 1 14 0 a7 5 0 0 1 14 0 a7 5 0 0 1 14 0 a7 5 0 0 1 14 0 a7 5 0 0 1 14 0 a7 6 0 0 1 12 6 a5 7 0 0 1 0 14 a5 7 0 0 1 0 14 a5 7 0 0 1 0 14 a5 7 0 0 1 0 14 a5 7 0 0 1 0 14 a5 7 0 0 1 0 14 a5 7 0 0 1 0 14 a5 7 0 0 1 0 14 a5 7 0 0 1 0 14 a5 7 0 0 1 0 14 a5 7 0 0 1 0 14 a5 6 0 0 1 0 11 a7 6 0 0 1 -12 6 a7 5 0 0 1 -14 0 a7 5 0 0 1 -14 0 a7 5 0 0 1 -14 0 a7 5 0 0 1 -14 0 a7 5 0 0 1 -14 0 a7 5 0 0 1 -14 0 a7 5 0 0 1 -14 0 a7 5 0 0 1 -14 0 a7 5 0 0 1 -14 0 a7 5 0 0 1 -14 0 a7 5 0 0 1 -14 0 a7 5 0 0 1 -14 0 a7 5 0 0 1 -14 0 a7 6 0 0 1 -12 -7 a5 7 0 0 1 0 -14 a5 7 0 0 1 0 -14 a5 7 0 0 1 0 -14 a5 7 0 0 1 0 -14 a5 7 0 0 1 0 -14 a5 7 0 0 1 0 -14 a5 7 0 0 1 0 -14 a5 7 0 0 1 0 -14 a5 7 0 0 1 0 -14 a5 7 0 0 1 0 -14 a5 7 0 0 1 0 -14 a5 6 0 0 1 0 -11 Z" fill="none" stroke="#e80000"/>
<!-- cloud detail -->
<rect x="733" y="670" width="11" height="62" fill="url(#hat)"/>
<g fill="none">
<path d="M732 773V627H767M746 644V633H767V637M767 627V637M745 644V732M732 773H751V732H732M763 626l-5 8 -5 -8M763 633V636" stroke="#ddd"/>
<path d="M733 643V670M733 732V753" stroke="#e010e0" stroke-width="1.200"/>
<path d="M742 645V670M742 732V753" stroke="#900090" stroke-width="1.500"/>
<path d="M733 670V732" stroke="#e010e0" stroke-width="1.500"/>
<path d="M719 644V662M719 644H729M719 662H729M732 643H746M732 670H746" stroke="#60e060"/>
<path d="M746 656H758M744 680H772M744 702H772M694 695H732M703 727H732M713 727V741M713 739H732M745 756H763" stroke="#ddd"/>
<path d="M763 764.500H871" stroke="#00e8e8"/>
</g>
<text class="t" x="737" y="640">0.5</text><text class="t" x="715" y="655">Ln</text><text class="t" x="752" y="657">1</text><text class="t" x="737" y="668">200</text><text class="t" x="756" y="679">C8@200</text><text class="t" x="756" y="701">C10@200</text><text class="t" x="762" y="716">C8@100/C8@150</text><text class="t" x="759" y="724">钢筋配置</text>
<text class="t" x="710" y="693">外墙做法</text><text class="t" x="702" y="703">钢筋混凝土</text><text class="t" x="702" y="711">详图纸说明</text><text class="t" x="719" y="725">标高</text><text class="t" x="738" y="749">Ln</text>
<text class="t" x="754" y="755">筏板</text>
<text x="766" y="761" style="font-size:10px;font-weight:bold" textLength="47" lengthAdjust="spacingAndGlyphs">主楼与车库连接钢筋大样</text>
<text x="765" y="773" style="font-size:5.5px;font-weight:bold" textLength="32" lengthAdjust="spacingAndGlyphs">施工时注意钢筋连接</text>

<!-- bottom bar -->
<rect x="0" y="815" width="1226" height="28" fill="#2c2c2c"/>
<path d="M0 812.500H1226" stroke="#eee"/>
<!-- background large text -->
<text class="big" x="-33" y="838" stroke="#aaa" textLength="40" lengthAdjust="spacingAndGlyphs">2</text>
<text class="big" x="15" y="838" stroke="#aaa" textLength="32" lengthAdjust="spacingAndGlyphs">+</text>
<text class="big" x="54" y="838" stroke="#aaa" textLength="92" lengthAdjust="spacingAndGlyphs">1/4</text>
<text class="big" x="190" y="838" stroke="#aaa" textLength="118" lengthAdjust="spacingAndGlyphs">1:100</text>
<path d="M574 835l7 -7M574 829v6h6M588 823l-7 7M582 824v6h6" stroke="#eee" fill="none"/>
<text x="593" y="834" style="font-size:12px;font-weight:bold" fill="#fff">指定第一点</text>

<!-- UCS icon -->
<path d="M50 794V772" stroke="#00d000" stroke-width="3"/><polygon points="45,775 50,763 55,775" fill="#00d000"/>
<path d="M50 794H70" stroke="#f00000" stroke-width="3"/><polygon points="68,789 79,794 68,799" fill="#f00000"/>
<circle cx="50" cy="794" r="6" fill="#1010c0"/>
<text x="49" y="761" style="font-size:13px;text-anchor:middle;fill:#00d000">Y</text>
<text x="86" y="799" style="font-size:13px;text-anchor:middle;fill:#f00000">X</text>

<!-- toolbar -->
<rect x="1193" y="0" width="40" height="245" rx="4" fill="#fff" stroke="#ccc"/>
<g fill="none" stroke="#5a6a82" stroke-width="1.200">
<ellipse cx="1208" cy="24" rx="9.500" ry="9.500"/><ellipse cx="1208" cy="24" rx="10" ry="4" transform="rotate(-25 1208 24)" stroke="#2d7fe8"/>
<path d="M1199 49l5 -6h14v13l-5 6h-14zM1199 49h14v13M1213 49l5 -6"/>
<path d="M1199 77l5 -6h14v14l-5 6h-14zM1199 77h14v14M1213 77l5 -6"/>
<path d="M1199 77l5 -6h14l-5 6z" fill="#cfe3fb" stroke="#2d7fe8"/>
<path d="M1199 117l5 -6h14v13l-5 6h-14zM1199 117h14v13M1213 117l5 -6" fill="#cfe3fb" stroke="#2d7fe8"/>
<path d="M1199 154v-4q0 -1 1 -1h4M1214 149h3q1 0 1 1v4M1218 163v4q0 1 -1 1h-3M1204 168h-4q-1 0 -1 -1v-4" stroke="#444a55"/>
<rect x="1199" y="178" width="19" height="19" rx="2" stroke-dasharray="2.500 2" stroke="#444a55"/>
<path d="M1208.500 182l5 3v6l-5 3 -5 -3v-6zM1203.500 185l5 3 5 -3M1208.500 188v6" stroke="#2d7fe8"/>
<rect x="1199" y="212" width="19" height="20" rx="2" stroke="#444a55"/>
<path d="M1202 218h8M1202 222h6M1202 226h4" stroke="#444a55"/>
<ellipse cx="1214" cy="229" rx="5" ry="3" fill="#fff" stroke="#2d7fe8"/><circle cx="1214" cy="229" r="1.200" fill="#2d7fe8" stroke="none"/>
</g>
<text x="1209" y="60" style="font-size:6.500px;font-weight:bold;text-anchor:middle;fill:#2d7fe8">3D</text>
<polygon points="1206,99 1212,99 1209,103" fill="#5a6068"/>
<polygon points="1206,138 1212,138 1209,142" fill="#5a6068"/>
<path d="M1198 205.500H1221" stroke="#aaa"/>
</svg>
</body></html>
